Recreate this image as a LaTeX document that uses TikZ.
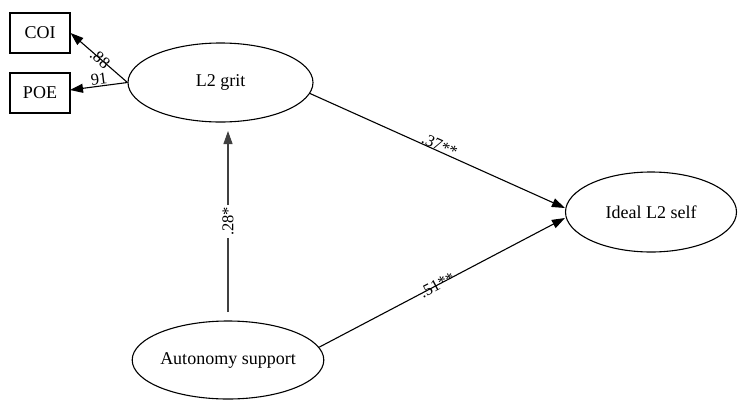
\documentclass[tikz,border=0pt]{standalone}
\usepackage{fontspec}
\setmainfont{Liberation Serif}
\usetikzlibrary{shapes.geometric,arrows.meta}
\begin{document}
\begin{tikzpicture}[x=1pt,y=-1pt,
  latent/.style={draw, ellipse, line width=1.1pt, inner sep=0pt, font=\fontsize{18}{21}\selectfont},
  obs/.style={draw, rectangle, line width=1.1pt, inner sep=0pt, minimum width=60pt, minimum height=40pt, font=\fontsize{18}{21}\selectfont},
  path/.style={line width=1.1pt, -{Triangle[length=13pt,width=9pt]}},
  lbl/.style={font=\fontsize{16.5}{19}\selectfont, inner sep=0.5pt, sloped}
]
\useasboundingbox (0,0) rectangle (738,399);
\node[obs] (coi) at (40,33) {COI};
\node[obs] (poe) at (40,93) {POE};
\node[latent, minimum width=185pt, minimum height=79pt] (grit) at (220.5,82.5) {L2 grit};
\node[latent, minimum width=171pt, minimum height=80pt] (ideal) at (651,212) {Ideal L2 self};
\node[latent, minimum width=182pt, minimum height=78pt] (auto) at (228,360) {Autonomy support};
\coordinate (gritbot) at (228,131);
\coordinate (autotop) at (228,312);
\coordinate (poein) at (70,90);
\draw[path] (grit.west) -- node[lbl, pos=0.48] {.88} (coi.east);
\draw[path] (grit.west) -- node[lbl, pos=0.48, above] {91} (poein);
\draw[path] (grit.-7) -- node[lbl, pos=0.5, above=-1pt] {.37**} ([yshift=4pt]ideal.west);
\draw[path] (auto.8) -- node[lbl, pos=0.48] {.51**} ([yshift=-6pt]ideal.west);
\draw[path, draw=black!75] (autotop) -- node[lbl, pos=0.5, fill=white, inner sep=2pt] {.28*} (gritbot);
\end{tikzpicture}
\end{document}
